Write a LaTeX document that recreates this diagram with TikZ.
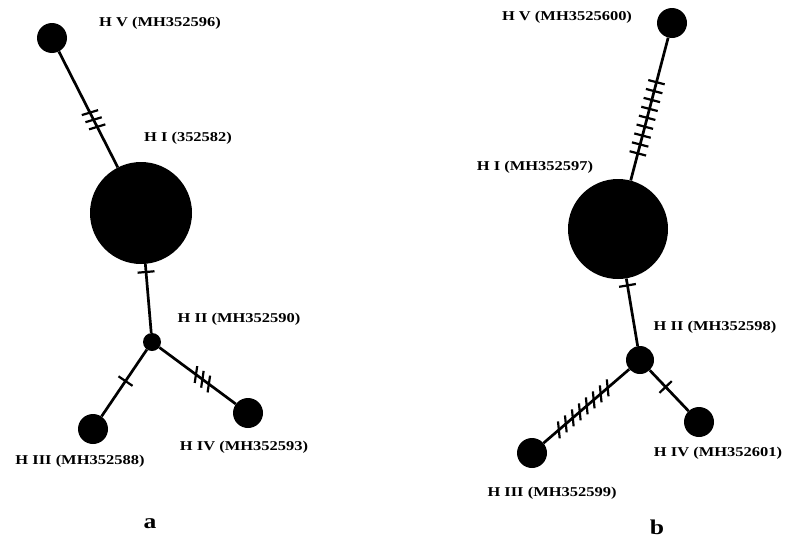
\documentclass[tikz,border=0pt]{standalone}
\usepackage{fontspec}
\newfontfamily\hapfont{Liberation Serif}[FakeStretch=1.22]
\usepackage{tikz}
\usetikzlibrary{decorations.markings}

\begin{document}
\begin{tikzpicture}[x=1pt,y=-1pt,
  hap/.style={circle,fill=black,inner sep=0pt},
  edge/.style={line width=2.7pt},
  lbl/.style={font=\hapfont\bfseries\fontsize{13.5}{15}\selectfont,inner sep=1pt},
  panel/.style={font=\hapfont\bfseries\fontsize{21}{24}\selectfont},
  ticks/.style n args={4}{postaction={decorate},
    decoration={markings,mark=between positions #1 and #2 step #3
      with {\draw[line width=2.2pt,rotate=#4] (0,-8.5pt) -- (0,8.5pt);}}}]
\useasboundingbox (0,0) rectangle (786,541);

% red a
\node[hap,minimum size=30pt] (aV) at (52,38) {};
\node[hap,minimum size=102pt] (aI) at (141,213) {};
\node[hap,minimum size=18pt] (aII) at (152,342) {};
\node[hap,minimum size=30pt] (aIII) at (93,429) {};
\node[hap,minimum size=30pt] (aIV) at (248,413) {};

\node[lbl] (aVlab) at (160,23) {H V (MH352596)};
\node[lbl] (aIlab) at (188,138) {H I (352582)};
\node[lbl] (aIIlab) at (239,319) {H II (MH352590)};
\node[lbl] (aIIIlab) at (80,461) {H III (MH352588)};
\node[lbl] (aIVlab) at (244,447) {H IV (MH352593)};
\node[panel] (alab) at (150,524) {a};

\draw[edge,ticks={68.5pt}{85pt}{8pt}{-10}] (aV) -- (aI);
\draw[edge,ticks={8pt}{8pt}{1pt}{0}] (aI) -- (aII);
\draw[edge,ticks={38pt}{38pt}{1pt}{0}] (aII) -- (aIII);
\draw[edge,ticks={45.5pt}{62pt}{8pt}{28}] (aII) -- (aIV);

% red b
\node[hap,minimum size=30pt] (bV) at (672,23) {};
\node[hap,minimum size=100pt] (bI) at (618,229) {};
\node[hap,minimum size=28pt] (bII) at (640,360) {};
\node[hap,minimum size=30pt] (bIII) at (532,453) {};
\node[hap,minimum size=30pt] (bIV) at (699,422) {};

\node[lbl] (bVlab) at (567,17) {H V (MH3525600)};
\node[lbl] (bIlab) at (535,167) {H I (MH352597)};
\node[lbl] (bIIlab) at (715,327) {H II (MH352598)};
\node[lbl] (bIIIlab) at (552,493) {H III (MH352599)};
\node[lbl] (bIVlab) at (718,453) {H IV (MH352601)};
\node[panel] (blab) at (657,527) {b};

\draw[edge,ticks={46pt}{121pt}{9.2pt}{0}] (bV) -- (bI);
\draw[edge,ticks={7pt}{7pt}{1pt}{0}] (bI) -- (bII);
\draw[edge,ticks={28.5pt}{94pt}{9.2pt}{-35}] (bII) -- (bIII);
\draw[edge,ticks={23pt}{23pt}{1pt}{0}] (bII) -- (bIV);
\end{tikzpicture}
\end{document}
